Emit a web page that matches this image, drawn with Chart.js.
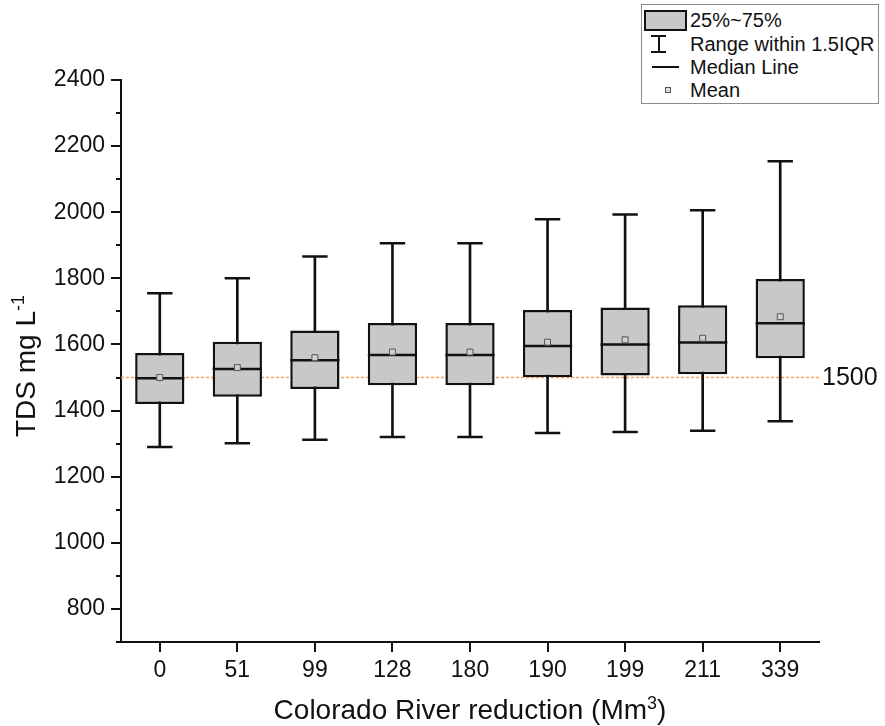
<!DOCTYPE html>
<html>
<head>
<meta charset="utf-8">
<script src="https://cdn.jsdelivr.net/npm/chart.js@4/dist/chart.umd.min.js"></script>
<style>
  body { margin: 0; background: #fff; font-family: 'Liberation Sans', Arial, sans-serif; }
  #wrap { position: relative; width: 885px; height: 726px; }
  #legend { position: absolute; left: 641px; top: 4px; width: 238px; height: 100px;
            border: 1px solid #8a8a8a; box-sizing: border-box; background: #fff; }
  .row { position: absolute; left: 0; height: 24px; width: 100%; }
  .row span { position: absolute; left: 48px; top: 0; font-size: 20px; line-height: 24px; color: #111; white-space: nowrap; }
  .sym { position: absolute; }
</style>
</head>
<body>
<div id="wrap">
  <canvas id="c" width="885" height="726"></canvas>
  <div id="legend">
    <div class="row" style="top:3px">
      <div class="sym" style="left:2px;top:2px;width:43px;height:21px;background:#c8c8c8;border:2.5px solid #111;box-sizing:border-box"></div>
      <span>25%~75%</span>
    </div>
    <div class="row" style="top:27px">
      <div class="sym" style="left:9px;top:3px;width:15px;height:2px;background:#111"></div>
      <div class="sym" style="left:15.5px;top:3px;width:2px;height:18px;background:#111"></div>
      <div class="sym" style="left:9px;top:19px;width:15px;height:2px;background:#111"></div>
      <span>Range within 1.5IQR</span>
    </div>
    <div class="row" style="top:50px">
      <div class="sym" style="left:10px;top:11px;width:27px;height:2px;background:#111"></div>
      <span>Median Line</span>
    </div>
    <div class="row" style="top:73px">
      <div class="sym" style="left:23px;top:9px;width:6px;height:6px;border:1px solid #555;box-sizing:border-box;background:#ddd"></div>
      <span>Mean</span>
    </div>
  </div>
</div>
<script>
  // values (TDS, mg/L)
  const categories = ['0', '51', '99', '128', '180', '190', '199', '211', '339'];
  const whiskerLow  = [1290, 1301, 1312, 1320, 1320, 1332, 1335, 1339, 1368];
  const q1          = [1420, 1442, 1465, 1477, 1477, 1501, 1506, 1510, 1558];
  const medians     = [1498, 1526, 1552, 1568, 1568, 1595, 1600, 1606, 1664];
  const q3          = [1574, 1608, 1642, 1665, 1665, 1704, 1712, 1719, 1798];
  const whiskerHigh = [1755, 1800, 1866, 1906, 1906, 1979, 1993, 2006, 2154];
  const means       = [1500, 1530, 1560, 1577, 1577, 1607, 1614, 1619, 1684];
  const refValue = 1500;

  const FONT = "'Liberation Sans', Arial, sans-serif";

  // draws text made of parts, some raised as superscript
  function richText(ctx, parts, cx, baseY) {
    let total = 0;
    parts.forEach(p => { ctx.font = p.size + 'px ' + FONT; p.w = ctx.measureText(p.t).width; total += p.w; });
    let x = cx - total / 2;
    parts.forEach(p => {
      ctx.font = p.size + 'px ' + FONT;
      ctx.fillText(p.t, x, baseY - (p.rise || 0));
      x += p.w;
    });
  }

  const extras = {
    id: 'extras',
    beforeDatasetsDraw(chart) {
      const { ctx, chartArea, scales } = chart;
      const y = scales.y.getPixelForValue(refValue);
      ctx.save();
      ctx.strokeStyle = '#f4a25e';
      ctx.lineWidth = 1.5;
      ctx.setLineDash([3, 2]);
      ctx.beginPath();
      ctx.moveTo(chartArea.left, y);
      ctx.lineTo(chartArea.right, y);
      ctx.stroke();
      ctx.restore();
    },
    afterDraw(chart) {
      const { ctx, chartArea, scales } = chart;
      const y = scales.y.getPixelForValue(refValue);
      ctx.save();
      ctx.fillStyle = '#111';
      ctx.font = '25px ' + FONT;
      ctx.textAlign = 'left';
      ctx.textBaseline = 'middle';
      ctx.fillText(String(refValue), chartArea.right + 3, y + 1);

      // axis titles
      ctx.textBaseline = 'alphabetic';
      const midX = (chartArea.left + chartArea.right) / 2;
      richText(ctx, [{ t: 'Colorado River reduction (Mm', size: 28 },
                     { t: '3', size: 18, rise: 10 },
                     { t: ')', size: 28 }], midX, 719);

      ctx.translate(35, (chartArea.top + chartArea.bottom) / 2 + 5);
      ctx.rotate(-Math.PI / 2);
      richText(ctx, [{ t: 'TDS mg L', size: 28 },
                     { t: '-1', size: 18, rise: 11 }], 0, 0);
      ctx.restore();
    }
  };

  const pts = (data, style, radius, width, order, fill, stroke) => ({
    type: 'line', data, showLine: false, order,
    pointStyle: style, pointRadius: radius, pointHoverRadius: radius,
    pointBorderWidth: width, pointBackgroundColor: fill || '#111',
    pointBorderColor: stroke || '#111'
  });

  new Chart(document.getElementById('c'), {
    type: 'bar',
    data: {
      labels: categories,
      datasets: [
        { data: categories.map((_, i) => [whiskerLow[i], whiskerHigh[i]]),
          backgroundColor: '#111', barThickness: 2, grouped: false, order: 6 },
        { data: categories.map((_, i) => [q1[i], q3[i]]),
          backgroundColor: '#c8c8c8', borderColor: '#111', borderWidth: 2.5,
          borderSkipped: false, barPercentage: 0.635, categoryPercentage: 1,
          grouped: false, order: 5 },
        pts(whiskerHigh, 'line', 12.7, 2.5, 3),
        pts(whiskerLow, 'line', 12.7, 2.5, 3),
        pts(medians, 'line', 24.6, 2.5, 1),
        pts(means, 'rect', 4.2, 1, 0, '#d0d0d0', '#555')
      ]
    },
    options: {
      responsive: false,
      animation: false,
      events: [],
      layout: { padding: { left: 0, top: 80, right: 66, bottom: 0 } },
      plugins: { legend: { display: false }, tooltip: { enabled: false } },
      scales: {
        x: {
          offset: true,
          grid: { offset: false, drawOnChartArea: false, tickLength: 10, color: '#111', lineWidth: 2 },
          border: { color: '#111', width: 2 },
          ticks: { color: '#111', font: { family: FONT, size: 23 }, padding: 5, maxRotation: 0 },
          afterFit: s => { s.height = 84; }
        },
        y: {
          position: 'left', weight: 1,
          min: 700, max: 2400,
          grid: { drawOnChartArea: false, tickLength: 10, color: '#111', lineWidth: 2 },
          border: { color: '#111', width: 2 },
          ticks: { stepSize: 200, includeBounds: false, color: '#111',
                   font: { family: FONT, size: 23 }, padding: 6,
                   callback: v => String(v) },
          afterFit: s => { s.width = 121; }
        },
        yMinor: {
          position: 'left', weight: 0,
          min: 700, max: 2400,
          grid: { drawOnChartArea: false, tickLength: 5, color: '#111', lineWidth: 2 },
          border: { display: false },
          ticks: { stepSize: 100, includeBounds: false, display: false },
          afterFit: s => { s.width = 0; }
        }
      }
    },
    plugins: [extras]
  });
</script>
</body>
</html>
